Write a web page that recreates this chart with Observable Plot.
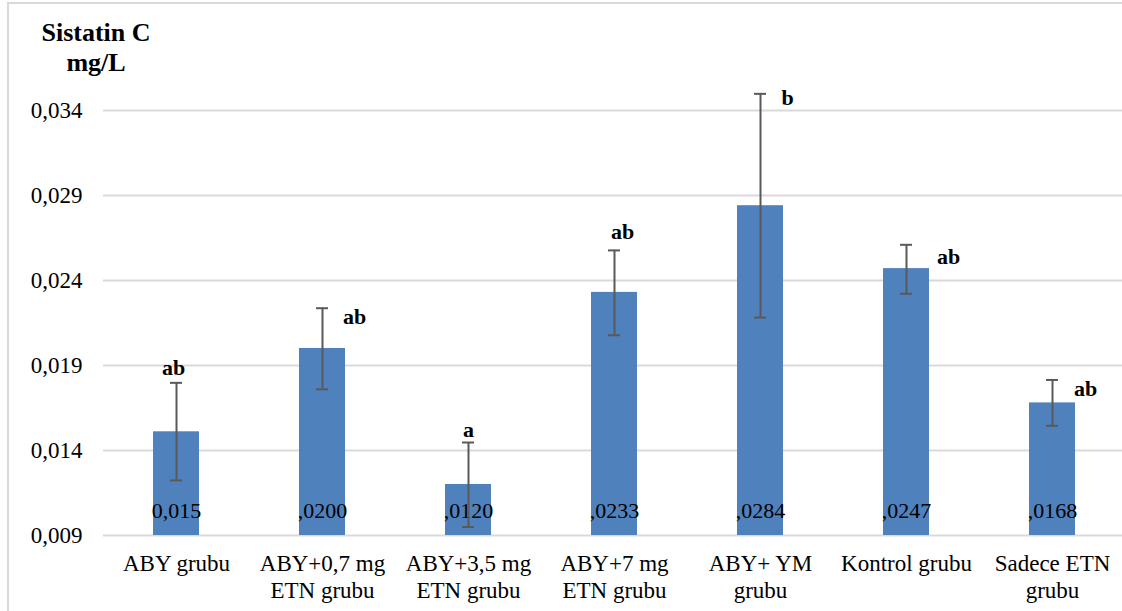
<!DOCTYPE html>
<html>
<head>
<meta charset="utf-8">
<script src="https://cdn.jsdelivr.net/npm/d3@7"></script>
<script src="https://cdn.jsdelivr.net/npm/@observablehq/plot@0.6"></script>
<style>
  html, body { margin: 0; padding: 0; background: white; }
  #wrap { position: relative; width: 1122px; height: 611px; overflow: hidden; background: white; }
  #frame { position: absolute; left: 7px; top: 2px; width: 1200px; height: 700px; border-left: 2px solid #D9D9D9; border-top: 2px solid #D9D9D9; pointer-events: none; }
  #title { position: absolute; left: -4px; top: 18px; width: 200px; text-align: center; font-family: "Liberation Serif", "Times New Roman", serif; font-weight: bold; font-size: 26px; line-height: 30px; color: black; pointer-events: none; }
</style>
</head>
<body>
<div id="wrap">
  <div id="chart"></div>
  <div id="frame"></div>
  <div id="title">Sistatin C<br>mg/L</div>
</div>
<script>
// ---- data ----
const groups = ["ABY grubu", "ABY+0,7 mg ETN grubu", "ABY+3,5 mg ETN grubu", "ABY+7 mg ETN grubu", "ABY+ YM grubu", "Kontrol grubu", "Sadece ETN grubu"];
const groupLabels = ["ABY grubu", "ABY+0,7 mg\nETN grubu", "ABY+3,5 mg\nETN grubu", "ABY+7 mg\nETN grubu", "ABY+ YM\ngrubu", "Kontrol grubu", "Sadece ETN\ngrubu"];
const means = [0.0151, 0.0200, 0.0120, 0.0233, 0.0284, 0.0247, 0.0168];
const errLow = [0.01224, 0.01760, 0.00950, 0.02078, 0.02182, 0.02322, 0.01545];
const errHigh = [0.01798, 0.02237, 0.01447, 0.02577, 0.03498, 0.02610, 0.01815];
const valueLabels = ["0,015", ",0200", ",0120", ",0233", ",0284", ",0247", ",0168"];
const letters = ["ab", "ab", "a", "ab", "b", "ab", "ab"];
const yTicks = [0.009, 0.014, 0.019, 0.024, 0.029, 0.034];

// ---- layout (letter offsets relative to top of error bar) ----
const letterDx = [-3, 32, 0, 8, 27, 42, 33];
const letterDy = [-15, 9, -13, -18, 4, 12, 9];

const FONT = "'Liberation Serif', 'Times New Roman', serif";

const rows = groups.map((g, i) => ({
  group: g, label: groupLabels[i], mean: means[i], lo: errLow[i], hi: errHigh[i],
  vlabel: valueLabels[i], letter: letters[i], ldx: letterDx[i], ldy: letterDy[i]
}));
const labelOf = new Map(groups.map((g, i) => [g, groupLabels[i]]));

const marks = [
  Plot.ruleY(yTicks, {stroke: "#D9D9D9", strokeWidth: 2}),
  Plot.barY(rows, {x: "group", y1: 0.009, y2: "mean", fill: "#4F81BD"}),
  Plot.text(rows, {x: "group", text: "vlabel", frameAnchor: "bottom", dy: -18, fill: "black", fontSize: 22, fontFamily: FONT}),
  Plot.ruleX(rows, {x: "group", y1: "lo", y2: "hi", stroke: "#595959", strokeWidth: 2}),
  Plot.tickY(rows, {x: "group", y: "lo", stroke: "#595959", strokeWidth: 2, insetLeft: 17, insetRight: 17}),
  Plot.tickY(rows, {x: "group", y: "hi", stroke: "#595959", strokeWidth: 2, insetLeft: 17, insetRight: 17}),
  Plot.axisY({ticks: yTicks, tickFormat: d => d.toFixed(3).replace(".", ","), tickSize: 0, tickPadding: 21, label: null, fontSize: 23, fontFamily: FONT}),
  Plot.axisX({tickFormat: d => labelOf.get(d), tickSize: 0, tickPadding: 17, label: null, fontSize: 23, lineHeight: 1.15, fontFamily: FONT})
];
rows.forEach(r => {
  marks.push(Plot.text([r], {x: "group", y: "hi", text: "letter", dx: r.ldx, dy: r.ldy, fontWeight: "bold", fontSize: 22, fill: "black", fontFamily: FONT}));
});

const chart = Plot.plot({
  width: 1122,
  height: 611,
  marginLeft: 103,
  marginRight: 0,
  marginTop: 76,
  marginBottom: 76,
  style: {fontFamily: FONT, fontSize: "21px", color: "black", background: "transparent", overflow: "visible"},
  x: {domain: groups, range: [103, 1125], paddingInner: 0.685, paddingOuter: 0.3425, align: 0.5},
  y: {domain: [0.009, 0.036]},
  marks
});
document.getElementById("chart").appendChild(chart);
</script>
</body>
</html>
